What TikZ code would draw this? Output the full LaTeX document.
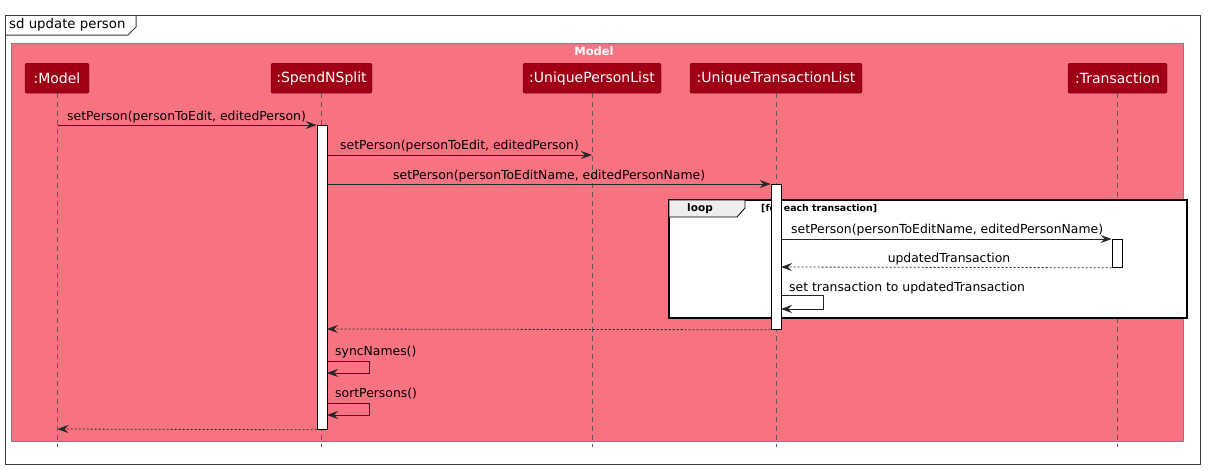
\documentclass[tikz,border=0pt]{standalone}
\usepackage{fontspec}
\setmainfont{DejaVu Sans}
\usetikzlibrary{arrows.meta}
\definecolor{pinkbg}{RGB}{248,115,130}
\definecolor{partred}{RGB}{160,0,22}
\definecolor{frameg}{RGB}{60,60,60}
\definecolor{tabg}{RGB}{238,238,238}
\definecolor{lifeg}{RGB}{90,90,90}
\begin{document}
\begin{tikzpicture}[x=1pt,y=-1pt,
 part/.style={rectangle, rounded corners=2pt, fill=partred, draw=partred!70!black, text=white, font=\fontsize{14}{16}\selectfont, minimum height=30pt, inner sep=0pt, anchor=north},
 life/.style={draw=lifeg, dash pattern=on 5pt off 4pt, line width=0.6pt},
 act/.style={draw=black, fill=white, line width=0.8pt, inner sep=0pt, minimum width=10pt, anchor=north},
 msg/.style={draw=black!85, line width=0.8pt, -{Stealth[length=11pt,width=8pt,inset=4pt]}},
 ret/.style={msg, dash pattern=on 2pt off 2pt},
 lbl/.style={font=\fontsize{12.4}{14}\selectfont, inner sep=0pt, anchor=base west},
]
\useasboundingbox (0,0) rectangle (1208,469);
\fill[white] (0,0) rectangle (1208,469);
% outer frame
\draw[frameg, line width=1pt] (5,15) rectangle (1200,464);
\draw[frameg, line width=1pt] (5,35) -- (128,35) -- (136,27) -- (136,15);
\node[font=\fontsize{13.3}{15}\selectfont, anchor=west, inner sep=0pt] (title) at (9,25) {sd update person};
% model box
\draw[fill=pinkbg, draw=gray, line width=0.8pt] (11,43) rectangle (1183,441);
\node[font=\bfseries\fontsize{11.5}{13}\selectfont, text=white, inner sep=0pt] (modeltitle) at (594,51) {Model};
% participants
\node[part, minimum width=64pt] (pm) at (57,63) {:Model};
\node[part, minimum width=101pt] (ps) at (321.5,63) {:SpendNSplit};
\node[part, minimum width=138pt] (pu) at (592,63) {:UniquePersonList};
\node[part, minimum width=172pt] (pt) at (776,63) {:UniqueTransactionList};
\node[part, minimum width=99pt] (px) at (1117.5,63) {:Transaction};
% lifeline ends
\coordinate (em) at (57.5,447);
\coordinate (es) at (321.5,447);
\coordinate (eu) at (592,447);
\coordinate (et) at (776,447);
\coordinate (ex) at (1117.5,447);
\draw[life] (pm.south -| em) -- (em);
\draw[life] (ps.south -| es) -- (es);
\draw[life] (pu.south -| eu) -- (eu);
\draw[life] (pt.south -| et) -- (et);
\draw[life] (px.south -| ex) -- (ex);
% loop frame
\draw[black, line width=1.3pt, fill=white] (669,200) rectangle (1187,318);
\draw[black, line width=0.8pt, fill=tabg] (669,200) -- (745,200) -- (745,208) -- (737,217) -- (669,217) -- cycle;
\node[font=\bfseries\fontsize{10.5}{12}\selectfont, inner sep=0pt] (looplbl) at (700,209) {loop};
\node[font=\bfseries\fontsize{9.4}{11}\selectfont, inner sep=0pt, anchor=west] (guard) at (761,209) {[for each transaction]};
% activations
\node[act, minimum height=304pt] (as) at (322,125) {};
\node[act, minimum height=145pt] (at) at (776,184) {};
\node[act, minimum height=28pt] (ax) at (1117,239) {};
% message coordinates
\coordinate (m1s) at (57.5,125);
\coordinate (m2s) at (327,155);
\coordinate (m2e) at (592,155);
\coordinate (m3s) at (327,184);
\coordinate (m4s) at (781,239);
\coordinate (m5e) at (781,267);
\coordinate (m6a) at (781,295);
\coordinate (m6b) at (823,295);
\coordinate (m6c) at (823,309);
\coordinate (m6d) at (781,309);
\coordinate (m7e) at (327,329);
\coordinate (m8a) at (327,361);
\coordinate (m8b) at (369,361);
\coordinate (m8c) at (369,373);
\coordinate (m8d) at (327,373);
\coordinate (m9a) at (327,403);
\coordinate (m9b) at (369,403);
\coordinate (m9c) at (369,415);
\coordinate (m9d) at (327,415);
\coordinate (m10e) at (57.5,429);
% messages
\draw[msg] (m1s) -- (as.north west);
\node[lbl] (l1) at (67,120) {setPerson(personToEdit, editedPerson)};
\draw[msg] (m2s) -- (m2e);
\node[lbl] (l2) at (340,149) {setPerson(personToEdit, editedPerson)};
\draw[msg] (m3s) -- (at.north west);
\node[lbl] (l3) at (393,179) {setPerson(personToEditName, editedPersonName)};
\draw[msg] (m4s) -- (ax.north west);
\node[lbl] (l4) at (791,233) {setPerson(personToEditName, editedPersonName)};
\draw[ret] (ax.south west) -- (m5e);
\node[lbl, anchor=base] (l5) at (949,262) {updatedTransaction};
\draw[msg] (m6a) -- (m6b) -- (m6c) -- (m6d);
\node[lbl] (l6) at (789,291) {set transaction to updatedTransaction};
\draw[ret] (at.south west) -- (m7e);
\draw[msg] (m8a) -- (m8b) -- (m8c) -- (m8d);
\node[lbl] (l8) at (335,355) {syncNames()};
\draw[msg] (m9a) -- (m9b) -- (m9c) -- (m9d);
\node[lbl] (l9) at (335,397) {sortPersons()};
\draw[ret] (as.south west) -- (m10e);
\end{tikzpicture}
\end{document}
